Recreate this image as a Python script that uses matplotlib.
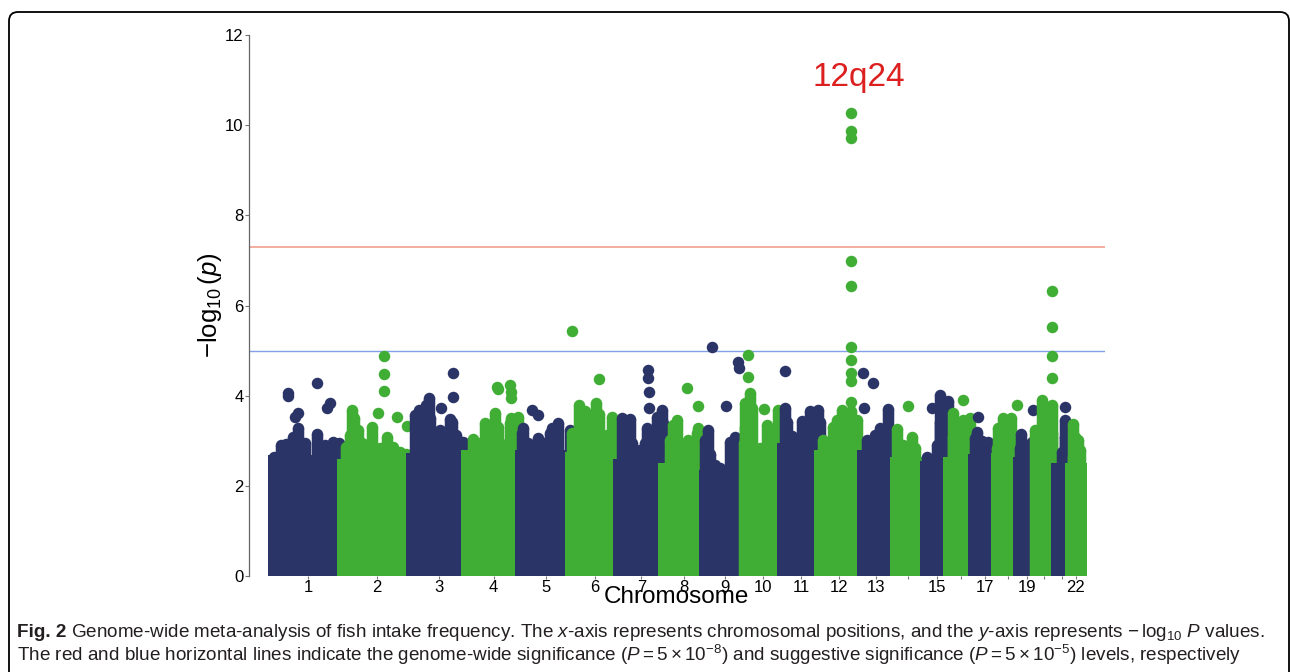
import numpy as np
import matplotlib
matplotlib.use("Agg")
import matplotlib.pyplot as plt
from matplotlib.patches import FancyBboxPatch
from matplotlib.transforms import IdentityTransform

plt.rcParams['font.family'] = ['Liberation Sans', 'DejaVu Sans']
plt.rcParams['mathtext.fontset'] = 'custom'
plt.rcParams['mathtext.rm'] = 'Liberation Sans'
plt.rcParams['mathtext.it'] = 'Liberation Sans:italic'
plt.rcParams['mathtext.bf'] = 'Liberation Sans:bold'

# chromosome lengths (Mb, hg19) and first covered position
chr_len = [249.25, 243.20, 198.02, 191.15, 180.92, 171.12, 159.14, 146.36, 141.21, 135.53, 135.01,
           133.85, 115.17, 107.35, 102.53, 90.35, 81.20, 78.08, 59.13, 63.03, 48.13, 51.30]
chr_first = [0.8, 0.5, 0.5, 0.5, 0.5, 0.5, 0.5, 0.5, 0.5, 0.5, 0.5,
             0.5, 19.0, 20.0, 20.0, 0.5, 0.5, 0.5, 0.5, 0.5, 15.0, 16.0]
chr_labels = ['1', '2', '3', '4', '5', '6', '7', '8', '9', '10', '11',
              '12', '13', '', '15', '', '17', '', '19', '', '', '22']

# -log10(p) below which the SNP cloud is solid
solid_top = [2.68, 2.60, 2.73, 2.80, 2.80, 2.75, 2.60, 2.50, 2.35, 2.60, 2.95,
             2.80, 2.80, 2.65, 2.55, 2.65, 2.70, 2.72, 2.65, 2.55, 2.50, 2.50]

# upper edge of the SNP cloud (chromosome, position Mb, -log10 p)
cloud_chr = [1]*10 + [2]*13 + [3]*15 + [4]*11 + [5]*11 + [6]*11 + [7]*10 + [8]*11 + [9]*9 + \
            [10]*13 + [11]*11 + [12]*9 + [13]*6 + [14]*4 + [15]*7 + [16]*7 + [17]*4 + [18]*7 + \
            [19]*4 + [20]*8 + [21]*3 + [22]*5
cloud_pos = [29.3, 1.0, 70.7, 88.5, 156.3, 44.6, 112.4, 183.8, 212.4, 233.8,
             33.5, 39.3, 53.5, 23.9, 9.6, 69.2, 104.9, 154.9, 178.5, 202.4, 81.0, 130.0, 225.0,
             63.5, 54.2, 27.8, 12.5, 66.0, 137.4, 147.0, 101.7, 143.5, 161.3, 24.3, 30.3, 184.9, 101.7, 54.2,
             99.9, 159.5, 153.5, 183.1, 64.2, 22.5, 93.9, 111.7, 147.4, 82.1, 39.3,
             10.0, 4.3, 134.9, 111.4, 105.3, 176.7, 63.5, 51.8, 129.2, 87.4, 26.8,
             28.9, 49.3, 88.5, 100.3, 144.5, 91.0, 1.8, 73.2, 126.7, 31.4, 113.5,
             8.9, 38.5, 14.6, 44.6, 133.8, 151.7, 157.4, 98.1, 92.1, 74.2,
             46.0, 33.9, 123.1, 117.4, 22.1, 87.4, 81.7, 129.2, 105.3, 33.9, 57.8,
             12.5, 1.0, 107.8, 89.9, 36.4, 54.2, 18.6, 100.6, 120.3,
             20.3, 2.5, 26.4, 20.3, 82.1, 2.5, 14.3, 91.7, 0.5, 56.0, 121.3, 127.4, 127.4,
             9.6, 15.7, 69.2, 98.9, 128.5, 134.6, 116.7, 15.7, 63.2, 34.6, 91.7,
             112.1, 77.1, 47.1, 59.2, 11.4, 35.3, 130.6, 88.9, 24.6,
             109.2, 79.6, 61.7, 32.1, 43.9, 93.9,
             24.3, 77.8, 47.8, 89.6,
             71.4, 98.9, 71.4, 89.2, 59.6, 23.9, 83.2,
             14.3, 52.1, 76.0, 40.3, 16.4, 28.6, 68.9,
             9.6, 3.6, 51.0, 28.6,
             23.2, 49.6, 5.4, 35.3, 47.1, 1.0, 65.0,
             8.2, 4.6, 46.4, 29.6,
             23.2, 58.9, 52.8, 23.2, 0.5, 58.9, 41.0, 5.4,
             43.2, 43.2, 31.4,
             22.5, 30.7, 42.5, 48.5, 24.6]
cloud_val = [2.91, 2.65, 3.09, 3.28, 3.15, 2.92, 2.95, 2.90, 2.97, 2.95,
             3.68, 3.50, 3.24, 3.13, 2.87, 2.94, 3.30, 3.09, 2.87, 2.75, 2.90, 2.85, 2.70,
             3.94, 3.79, 3.68, 3.57, 3.50, 3.48, 3.42, 3.24, 3.24, 3.13, 3.31, 3.09, 2.98, 2.87, 2.94,
             3.61, 3.50, 3.39, 3.53, 3.39, 3.03, 3.20, 3.31, 2.94, 3.09, 2.95,
             3.28, 3.17, 3.39, 3.28, 3.17, 3.24, 3.05, 2.90, 3.02, 2.95, 2.95,
             3.79, 3.65, 3.83, 3.59, 3.52, 3.31, 3.17, 3.13, 3.13, 2.95, 3.00,
             3.50, 3.48, 3.24, 2.94, 3.53, 3.68, 3.39, 3.28, 2.94, 2.80,
             3.46, 3.35, 3.28, 3.17, 3.02, 3.02, 2.80, 2.80, 2.90, 2.65, 2.60,
             3.24, 3.02, 3.09, 2.98, 2.46, 2.40, 2.70, 2.80, 2.90,
             4.05, 3.83, 3.72, 3.55, 3.35, 3.31, 3.24, 3.02, 2.94, 2.83, 3.68, 3.42, 3.28,
             3.72, 3.42, 3.44, 3.65, 3.68, 3.42, 3.20, 3.17, 3.02, 3.10, 3.10,
             3.65, 3.68, 3.31, 3.46, 3.02, 2.83, 3.46, 3.10, 2.95,
             3.70, 3.28, 3.13, 3.02, 2.94, 3.10,
             3.25, 3.08, 2.90, 2.85,
             4.01, 3.88, 3.42, 3.24, 2.90, 2.65, 3.46,
             3.61, 3.46, 3.50, 3.24, 3.09, 2.87, 3.20,
             3.20, 3.05, 2.98, 3.00,
             3.50, 3.50, 3.28, 3.24, 3.02, 2.83, 3.10,
             3.14, 2.83, 2.98, 2.90,
             3.90, 3.79, 3.53, 3.31, 3.24, 3.17, 3.02, 2.83,
             3.46, 3.09, 2.76,
             3.37, 3.08, 3.02, 2.80, 2.65]

# isolated SNPs standing above the cloud
hit_chr = [1]*7 + [2]*6 + [3]*3 + [4]*5 + [5]*2 + [6]*2 + [7]*4 + [8]*2 + [9]*4 + [10]*3 + \
          [11] + [12]*10 + [13]*3 + [14] + [15] + [16] + [17] + [18] + [19] + [20]*4 + [21]
hit_pos = [52.8, 53.5, 157.7, 201.6, 193.4, 76.7, 88.5,
           145.3, 145.3, 145.3, 122.8, 192.7, 226.3,
           149.2, 149.2, 105.3,
           109.6, 113.1, 153.5, 157.0, 157.0,
           40.0, 63.5,
           1.8, 100.3,
           103.9, 103.9, 106.4, 106.4,
           84.6, 123.1,
           24.6, 119.6, 122.1, 75.7,
           14.3, 14.3, 70.3,
           9.6,
           112.1, 112.1, 112.1, 112.1, 112.1, 112.1, 112.1, 112.1, 112.1, 112.1,
           20.7, 53.5, 22.5,
           63.5, 41.8, 52.1, 15.3, 71.0, 52.1,
           58.2, 58.2, 58.2, 58.2,
           43.2]
hit_val = [4.07, 3.99, 4.29, 3.83, 3.72, 3.52, 3.61,
           4.88, 4.47, 4.10, 3.62, 3.53, 3.33,
           4.50, 3.98, 3.72,
           4.20, 4.14, 4.24, 4.09, 3.94,
           3.68, 3.57,
           5.43, 4.37,
           4.57, 4.39, 4.09, 3.73,
           4.18, 3.77,
           5.07, 4.75, 4.61, 3.76,
           4.90, 4.42, 3.70,
           4.55,
           10.28, 9.87, 9.71, 6.99, 6.43, 5.07, 4.79, 4.50, 4.33, 3.87,
           4.50, 4.29, 3.72,
           3.77, 3.72, 3.90, 3.52, 3.79, 3.68,
           6.33, 5.52, 4.89, 4.40,
           3.74]

genome_wide = -np.log10(5e-8)
suggestive = 5.0

colors = ['#2b3467', '#40ae35']

offset = np.concatenate([[0], np.cumsum(chr_len)[:-1]])
total = sum(chr_len)

fig = plt.figure(figsize=(12.9, 6.72), dpi=100)
ax = fig.add_axes([249 / 1290, 96 / 672, 856 / 1290, 541 / 672])
ax.set_xlim(-0.03 * total, 1.03 * total)
ax.set_ylim(0, 12)

dot_px = 11.5
dot_pt = dot_px * 72 / fig.dpi
xr = ax.get_xlim()
rad = dot_px / 2 / 856 * (xr[1] - xr[0])

cloud_chr = np.array(cloud_chr)
cloud_x = np.array(cloud_pos) + offset[cloud_chr - 1]
cloud_val = np.array(cloud_val)
hit_chr = np.array(hit_chr)
hit_x = np.array(hit_pos) + offset[hit_chr - 1]
hit_val = np.array(hit_val)

ax.axhline(genome_wide, color='#f0a090', lw=1.2, zorder=1)
ax.axhline(suggestive, color='#82a0ea', lw=1.0, zorder=1)

for i in range(22):
    c = colors[i % 2]
    x0 = offset[i] + chr_first[i] - rad
    x1 = offset[i] + chr_len[i] + rad
    ax.fill_between([x0, x1], 0, solid_top[i], color=c, lw=0, zorder=2)
    m = cloud_chr == i + 1
    ax.vlines(cloud_x[m], 0, cloud_val[m], colors=c, lw=dot_pt, zorder=2)
    ax.scatter(cloud_x[m], cloud_val[m], s=dot_pt ** 2, color=c, lw=0, zorder=2)
    m = hit_chr == i + 1
    ax.scatter(hit_x[m], hit_val[m], s=dot_pt ** 2, color=c, lw=0, zorder=2)

peak = hit_val.argmax()
ax.annotate('12q24', xy=(hit_x[peak], 10.87), xytext=(5.5, 0), textcoords='offset points',
            ha='center', va='baseline', color='#dc1f1f', fontsize=24)

mids = [offset[i] + (chr_first[i] + chr_len[i]) / 2 for i in range(22)]
ax.set_xticks(mids)
ax.set_xticklabels(chr_labels)
ax.set_yticks(range(0, 13, 2))
ax.tick_params(axis='x', length=2.5, width=0.8, color='#777777', labelsize=12, pad=0.5)
ax.tick_params(axis='y', length=3, width=0.8, color='#777777', labelsize=12, pad=1)
for s in ['top', 'right', 'bottom']:
    ax.spines[s].set_visible(False)
ax.spines['left'].set_color('#666666')
ax.spines['left'].set_linewidth(0.9)

fig.text(676 / 1290, (672 - 603) / 672, 'Chromosome', ha='center', va='baseline', fontsize=17.5)
fig.text(210 / 1290, (672 - 305) / 672, r'$-\log_{10}(\mathit{p})$', rotation=90,
         ha='center', va='center', fontsize=18.5)

# caption
cap = dict(fontsize=13.6, color='#231f20', va='baseline')
t = fig.text(17 / 1290, (672 - 637) / 672, 'Fig. 2', weight='bold', **cap)
fig.canvas.draw()
bb = t.get_window_extent()
fig.text((bb.x1 + 5) / 1290, (672 - 637) / 672,
         r'Genome-wide meta-analysis of fish intake frequency. The $\mathit{x}$-axis represents '
         r'chromosomal positions, and the $\mathit{y}$-axis represents $-\,\log_{10}\,\mathit{P}$ values.',
         **cap)
fig.text(17 / 1290, (672 - 661) / 672,
         r'The red and blue horizontal lines indicate the genome-wide significance '
         r'($\mathit{P} = 5 \times 10^{-8}$) and suggestive significance ($\mathit{P} = 5 \times 10^{-5}$) '
         r'levels, respectively', **cap)

frame = FancyBboxPatch((9, -30), 1280, 690, boxstyle='round,pad=0,rounding_size=9',
                       transform=IdentityTransform(), fill=False, ec='black', lw=1.3)
fig.add_artist(frame)

fig.savefig('out.png', dpi=100)
